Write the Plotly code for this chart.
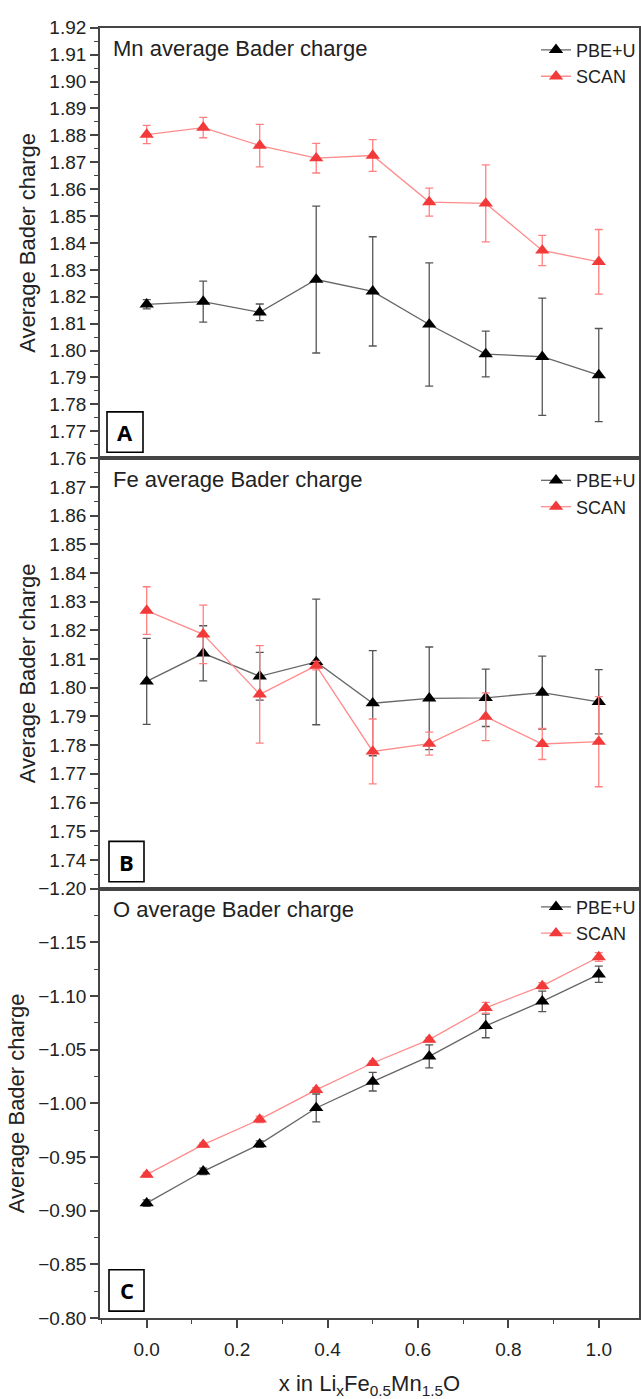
import plotly.graph_objects as go

# Lithium content x in LixFe0.5Mn1.5O
x_li = [0.0, 0.125, 0.25, 0.375, 0.5, 0.625, 0.75, 0.875, 1.0]

# Mn average Bader charge
mn_pbe = [1.8172, 1.8182, 1.8142, 1.8264, 1.8220, 1.8097, 1.7987, 1.7977, 1.7909]
mn_pbe_err = [0.0017, 0.0076, 0.0031, 0.0273, 0.0203, 0.0229, 0.0085, 0.0218, 0.0173]
mn_scan = [1.8803, 1.8829, 1.8762, 1.8715, 1.8725, 1.8552, 1.8547, 1.8372, 1.8330]
mn_scan_err = [0.0034, 0.0038, 0.0079, 0.0055, 0.0059, 0.0052, 0.0143, 0.0056, 0.0120]

# Fe average Bader charge
fe_pbe = [1.8022, 1.8120, 1.8040, 1.8090, 1.7946, 1.7963, 1.7965, 1.7983, 1.7951]
fe_pbe_err = [0.0150, 0.0096, 0.0083, 0.0219, 0.0183, 0.0179, 0.0100, 0.0127, 0.0112]
fe_scan = [1.8269, 1.8186, 1.7977, 1.8077, 1.7778, 1.7805, 1.7899, 1.7804, 1.7812]
fe_scan_err = [0.0083, 0.0102, 0.0170, 0.0015, 0.0113, 0.0040, 0.0083, 0.0054, 0.0157]

# O average Bader charge
o_pbe = [-0.9070, -0.9367, -0.9620, -0.9957, -1.0202, -1.0437, -1.0721, -1.0950, -1.1202]
o_pbe_err = [0.0030, 0.0030, 0.0030, 0.0130, 0.0087, 0.0107, 0.0110, 0.0095, 0.0076]
o_scan = [-0.9336, -0.9615, -0.9850, -1.0125, -1.0376, -1.0593, -1.0890, -1.1094, -1.1363]
o_scan_err = [0.0020, 0.0020, 0.0030, 0.0020, 0.0020, 0.0020, 0.0050, 0.0030, 0.0040]

# Tick values
mn_ticks = [round(1.76 + 0.01 * i, 2) for i in range(17)]
fe_ticks = [round(1.74 + 0.01 * i, 2) for i in range(14)]
o_ticks = [-1.20, -1.15, -1.10, -1.05, -1.00, -0.95, -0.90, -0.85, -0.80]
x_ticks = [0.0, 0.2, 0.4, 0.6, 0.8, 1.0]

panel_titles = ["Mn average Bader charge", "Fe average Bader charge", "O average Bader charge"]
panel_letters = ["A", "B", "C"]
series_names = ["PBE+U", "SCAN"]

W, H = 641, 1399
FONT = "Liberation Sans, Arial, sans-serif"
TXT = "#222222"
FRAME = "#454545"


def fx(p):
    return p / W


def fy(p):
    return 1 - p / H


PLOT_L, PLOT_R = 100, 639
panels = [
    dict(top=18, bottom=455, pbe=mn_pbe, pbe_err=mn_pbe_err, scan=mn_scan, scan_err=mn_scan_err,
         yrange=[1.76, 1.92], ticks=mn_ticks, fmt=".2f", minor=0.005, tick0=1.76,
         title_y=39, leg_y=22, box=(107, 143, 408, 449)),
    dict(top=455, bottom=892, pbe=fe_pbe, pbe_err=fe_pbe_err, scan=fe_scan, scan_err=fe_scan_err,
         yrange=[1.73, 1.88], ticks=fe_ticks, fmt=".2f", minor=0.005, tick0=1.73,
         title_y=477, leg_y=459, box=(109, 144, 844, 885)),
    dict(top=892, bottom=1328, pbe=o_pbe, pbe_err=o_pbe_err, scan=o_scan, scan_err=o_scan_err,
         yrange=[-0.80, -1.20], ticks=o_ticks, fmt=".2f", minor=0.025, tick0=-1.20,
         title_y=913, leg_y=892, box=(109, 144, 1279, 1321)),
]

fig = go.Figure()
layout = dict(
    width=W, height=H, margin=dict(l=0, r=0, t=0, b=0),
    paper_bgcolor="white", plot_bgcolor="white",
    font=dict(family=FONT, color=TXT, size=18),
    showlegend=True, annotations=[], shapes=[],
)

x_range = [-0.1033, 1.089]

for i, p in enumerate(panels):
    n = "" if i == 0 else str(i + 1)
    xa, ya = "x" + n, "y" + n
    leg = "legend" + n
    for name, y, err, line_c, mark_c, err_c in [
        (series_names[0], p["pbe"], p["pbe_err"], "#666666", "#000000", "#555555"),
        (series_names[1], p["scan"], p["scan_err"], "#ff8c8c", "#f23a3a", "#ff8080"),
    ]:
        fig.add_trace(go.Scatter(
            x=x_li, y=y, name=name, mode="lines+markers",
            xaxis=xa, yaxis=ya, legend=leg,
            line=dict(color=line_c, width=1.3),
            marker=dict(symbol="triangle-up", size=12.5, color=mark_c, line=dict(width=0)),
            error_y=dict(type="data", array=err, visible=True, color=err_c, thickness=1.3, width=4),
        ))

    last = i == len(panels) - 1
    layout["xaxis" + n] = dict(
        domain=[fx(PLOT_L), fx(PLOT_R)], anchor=ya, range=x_range,
        showline=True, linecolor=FRAME, linewidth=1.8, mirror=True,
        showgrid=False, zeroline=False,
        showticklabels=last,
        ticks="outside" if last else "",
        tickvals=x_ticks if last else None, tickformat=".1f",
        ticklen=8, tickwidth=1.5, tickcolor=FRAME, ticklabelstandoff=5,
        tickfont=dict(size=19, color=TXT),
        minor=dict(ticks="outside", tickmode="linear", tick0=0.1, dtick=0.2, ticklen=4,
                   tickwidth=1.3, tickcolor=FRAME) if last else None,
        title=dict(text="x in Li<sub>x</sub>Fe<sub>0.5</sub>Mn<sub>1.5</sub>O",
                   font=dict(size=22, color=TXT), standoff=18) if last else None,
    )
    if i > 0:
        layout["xaxis" + n]["matches"] = "x"
    layout["yaxis" + n] = dict(
        domain=[fy(p["bottom"]), fy(p["top"])], anchor=xa, range=p["yrange"],
        showline=True, linecolor=FRAME, linewidth=1.8, mirror=True,
        showgrid=False, zeroline=False,
        ticks="outside", tickvals=p["ticks"], tickformat=p["fmt"],
        ticklen=8, tickwidth=1.5, tickcolor=FRAME,
        tickfont=dict(size=19, color=TXT),
        minor=dict(ticks="outside", tickmode="linear", tick0=p["tick0"], dtick=p["minor"],
                   ticklen=4, tickwidth=1.3, tickcolor=FRAME),
        title=dict(text="Average Bader charge", font=dict(size=22, color=TXT), standoff=8),
    )
    layout[leg] = dict(
        x=fx(536), y=fy(p["leg_y"]), xanchor="left", yanchor="top",
        bgcolor="rgba(0,0,0,0)", borderwidth=0,
        font=dict(size=18, color=TXT), tracegroupgap=0, itemclick=False,
    )
    # Panel heading
    layout["annotations"].append(dict(
        text=panel_titles[i], xref="paper", yref="paper",
        x=fx(111), y=fy(p["title_y"]), xanchor="left", yanchor="middle",
        showarrow=False, font=dict(size=22, color=TXT),
    ))
    # Boxed panel letter
    bx0, bx1, by0, by1 = p["box"]
    layout["shapes"].append(dict(
        type="rect", xref="paper", yref="paper",
        x0=fx(bx0), x1=fx(bx1), y0=fy(by1), y1=fy(by0),
        line=dict(color="#000000", width=1.6), fillcolor="white",
    ))
    layout["annotations"].append(dict(
        text="<b>%s</b>" % panel_letters[i], xref="paper", yref="paper",
        x=fx((bx0 + bx1) / 2), y=fy((by0 + by1) / 2), xanchor="center", yanchor="middle",
        showarrow=False, font=dict(size=22, color="#000000", family="Open Sans, sans-serif"),
    ))

fig.update_layout(**layout)
fig.write_html("out.html")
